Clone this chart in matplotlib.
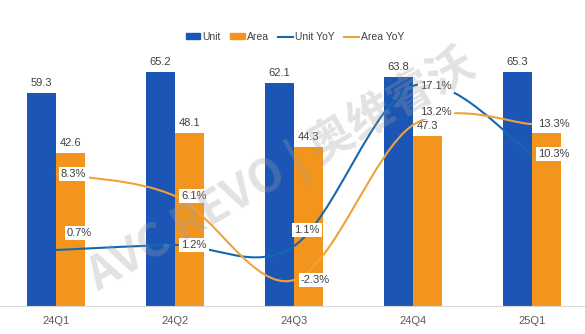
import numpy as np
import matplotlib.pyplot as plt
from matplotlib.path import Path
from matplotlib.patches import PathPatch, Patch
from matplotlib.lines import Line2D

plt.rcParams['font.family'] = ['Liberation Sans', 'DejaVu Sans']

# quarterly shipments (bars) and year-on-year growth (lines)
quarters = ["24Q1", "24Q2", "24Q3", "24Q4", "25Q1"]
unit = [59.3, 65.2, 62.1, 63.8, 65.3]
area = [42.6, 48.1, 44.3, 47.3, 48.2]
unit_yoy = [0.7, 1.2, 1.1, 17.1, 10.3]
area_yoy = [8.3, 6.1, -2.3, 13.2, 13.3]

BLUE = "#1B55B5"
ORANGE = "#F3951D"
BLUE_LINE = "#1568B0"
ORANGE_LINE = "#F0A23A"
TXT = "#404040"

# label offsets in pixels (dx, dy) for the growth labels
unit_off = [(11, 17), (6, 0), (0, 16), (7, 0), (6, 0)]
area_off = [(5, 0), (6, 0), (7, 0), (7, 13), (6, 0)]


def smooth_path(xs, ys):
    # Catmull-Rom style bezier through every point, like spreadsheet "smoothed line"
    pts = np.column_stack([xs, ys]).astype(float)
    n = len(pts)
    verts = [pts[0]]
    codes = [Path.MOVETO]
    for i in range(n - 1):
        p0 = pts[max(i - 1, 0)]
        p1 = pts[i]
        p2 = pts[i + 1]
        p3 = pts[min(i + 2, n - 1)]
        c1 = p1 + (p2 - p0) / 6.0
        c2 = p2 - (p3 - p1) / 6.0
        verts += [c1, c2, p2]
        codes += [Path.CURVE4] * 3
    return Path(verts, codes)


fig = plt.figure(figsize=(5.85, 3.34), dpi=100)
ax = fig.add_axes([0, 28 / 334, 1, (306 - 54.7) / 334])
x = np.arange(len(quarters))
w = 0.243

b1 = ax.bar(x - w / 2, unit, w, color=BLUE, zorder=2)
b2 = ax.bar(x + w / 2, area, w, color=ORANGE, zorder=2)
for bars, vals in ((b1, unit), (b2, area)):
    for r, v in zip(bars, vals):
        ax.annotate(f"{v:.1f}", (r.get_x() + r.get_width() / 2, v),
                    xytext=(0, 5), textcoords="offset pixels",
                    ha="center", va="bottom", fontsize=8, color=TXT)

ax.set_xlim(-0.47, 4.445)
ax.set_ylim(0, 70)
ax.set_xticks(x)
ax.set_xticklabels(quarters, fontsize=8, color="#595959")
ax.tick_params(axis="x", length=0, pad=7)
ax.set_yticks([])
for s in ("top", "left", "right"):
    ax.spines[s].set_visible(False)
ax.spines["bottom"].set_color("#D9D9D9")

# growth lines on a hidden secondary axis
ax2 = ax.twinx()
ax2.set_ylim(-4.9, 20.23)
ax2.set_yticks([])
for s in ax2.spines.values():
    s.set_visible(False)

for vals, col, offs in ((unit_yoy, BLUE_LINE, unit_off), (area_yoy, ORANGE_LINE, area_off)):
    ax2.add_patch(PathPatch(smooth_path(x, vals), facecolor="none",
                            edgecolor=col, lw=1.5, zorder=3))
    for xi, v, (dx, dy) in zip(x, vals, offs):
        ax2.annotate(f"{v:.1f}%", (xi, v), xytext=(dx, dy), textcoords="offset pixels",
                     ha="left", va="center", fontsize=8, color=TXT, zorder=5,
                     bbox=dict(boxstyle="square,pad=0.2", fc="white", ec="none"))

# watermark
fig.text(0.48, 0.49, "AVC REVO | 奥维睿沃", rotation=30, ha="center", va="center",
         fontsize=33, fontweight="bold", color="#A0A0A0", alpha=0.3,
         family=["Noto Sans CJK SC", "DejaVu Sans"], zorder=10)

handles = [Patch(color=BLUE), Patch(color=ORANGE),
           Line2D([], [], color=BLUE_LINE, lw=1.5),
           Line2D([], [], color=ORANGE_LINE, lw=1.5)]
fig.legend(handles, ["Unit", "Area", "Unit YoY", "Area YoY"], loc="center",
           bbox_to_anchor=(295 / 585, 1 - 37 / 334), ncol=4, frameon=False,
           fontsize=7.5, handlelength=1.4, handleheight=0.5, columnspacing=0.9,
           handletextpad=0.2, labelcolor=TXT)

fig.savefig("out.png", dpi=100)
